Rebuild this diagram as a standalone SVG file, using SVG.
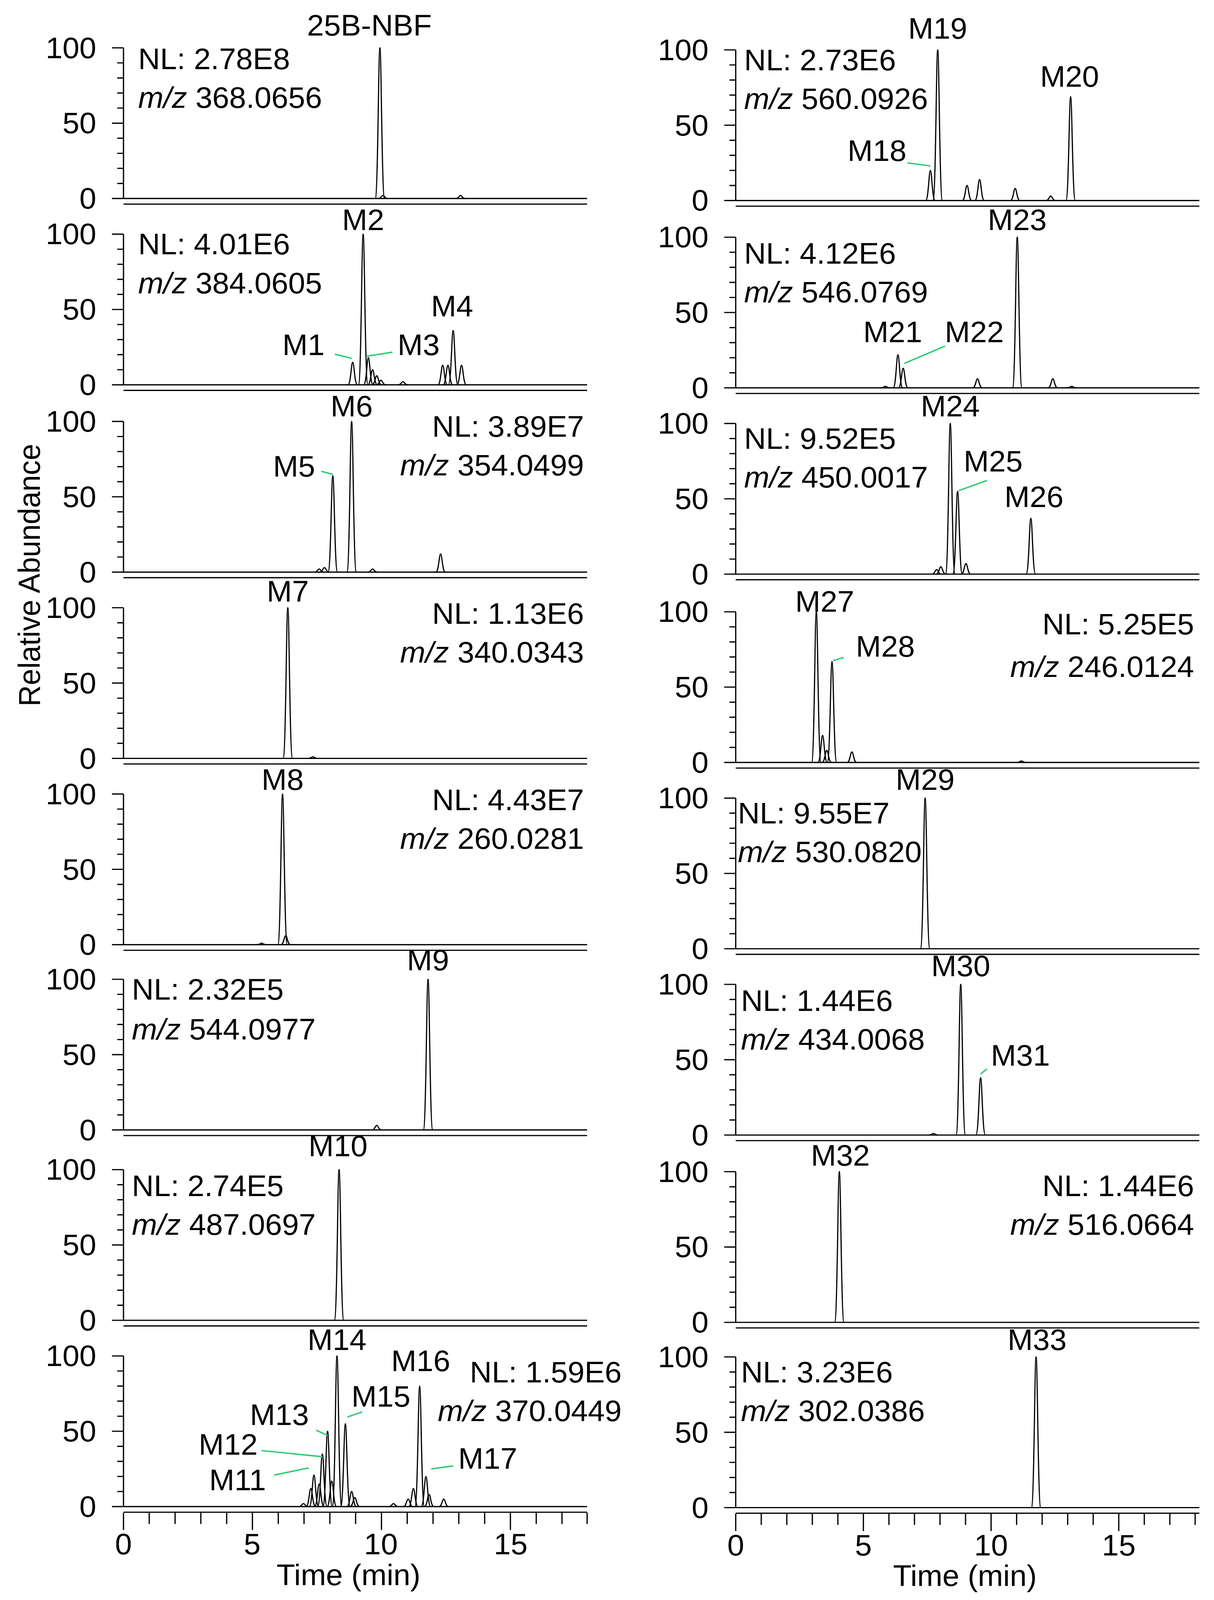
<svg xmlns="http://www.w3.org/2000/svg" xmlns:xlink="http://www.w3.org/1999/xlink" width="3108" height="4198" viewBox="0 0 3108 4198">
<style>
text{font-family:"Liberation Sans",Arial,sans-serif;font-size:29px;fill:#000}
.ax{fill:none;stroke:#000;stroke-width:1.2}
.pk use{stroke:#000;stroke-width:3;fill:none}
.g{stroke:#2ecc71;stroke-width:1.4;fill:none}
.e{text-anchor:end}
.m{text-anchor:middle}
</style>
<defs>
<path id="p" d="M-4.5,0 C-1.8,0 -1.4,-1 0,-1 C1.4,-1 1.8,0 4.5,0" fill="none" vector-effect="non-scaling-stroke"/>
<g id="yax">
<path class="ax" d="M0,0V-148 M-11,0H0 M-6,-14.8H0 M-6,-29.6H0 M-6,-44.4H0 M-6,-59.2H0 M-11,-74H0 M-6,-88.8H0 M-6,-103.6H0 M-6,-118.4H0 M-6,-133.2H0 M-11,-148H0 M0,0H443 M0,5.5H443"/>
<text class="e" x="-26" y="10">0</text>
<text class="e" x="-26" y="-64">50</text>
<text class="e" x="-26" y="-138">100</text>
</g>
</defs>
<rect width="3108" height="4198" fill="#fff"/>
<g transform="scale(2.6793,2.606)">
<text transform="translate(38,565) rotate(-90)" class="m">Relative Abundance</text>

<g id="L1"><use href="#yax" x="118" y="195"/>
<g class="pk" transform="translate(0,195) scale(1,1.48)"><use href="#p" transform="translate(363,0) scale(1,100)"/><use href="#p" transform="translate(366,0) scale(1,2)"/><use href="#p" transform="translate(440,0) scale(1,2)"/></g>
<text class="m" x="353" y="35">25B-NBF</text><text x="132" y="68">NL: 2.78E8</text><text x="132" y="106"><tspan font-style="italic">m/z</tspan> 368.0656</text></g>

<g id="L2"><use href="#yax" x="118" y="378"/>
<g class="pk" transform="translate(0,378) scale(1,1.48)"><use href="#p" transform="translate(337,0) scale(1,15)"/><use href="#p" transform="translate(347,0) scale(1,100)"/><use href="#p" transform="translate(352,0) scale(1,18)"/><use href="#p" transform="translate(356,0) scale(1,10)"/><use href="#p" transform="translate(360,0) scale(1,6)"/><use href="#p" transform="translate(364,0) scale(1,3)"/><use href="#p" transform="translate(385,0) scale(1,2)"/><use href="#p" transform="translate(423,0) scale(1,13)"/><use href="#p" transform="translate(428,0) scale(1,13)"/><use href="#p" transform="translate(433,0) scale(1,36)"/><use href="#p" transform="translate(441,0) scale(1,13)"/></g>
<text class="m" x="347" y="226">M2</text><text class="m" x="290" y="349">M1</text><text class="m" x="400" y="349">M3</text><text class="m" x="432" y="311">M4</text>
<path class="g" d="M320,348L336,352 M350,350L375,346"/>
<text x="132" y="250">NL: 4.01E6</text><text x="132" y="288"><tspan font-style="italic">m/z</tspan> 384.0605</text></g>

<g id="L3"><use href="#yax" x="118" y="562"/>
<g class="pk" transform="translate(0,562) scale(1,1.48)"><use href="#p" transform="translate(305,0) scale(1,2)"/><use href="#p" transform="translate(310,0) scale(1,3)"/><use href="#p" transform="translate(318,0) scale(1,64)"/><use href="#p" transform="translate(336,0) scale(1,100)"/><use href="#p" transform="translate(356,0) scale(1,2)"/><use href="#p" transform="translate(421,0) scale(1,12)"/></g>
<text class="m" x="336" y="409">M6</text><text class="m" x="281" y="468">M5</text>
<path class="g" d="M307,463L318,466"/>
<text class="e" x="558" y="429">NL: 3.89E7</text><text class="e" x="558" y="467"><tspan font-style="italic">m/z</tspan> 354.0499</text></g>

<g id="L4"><use href="#yax" x="118" y="745"/>
<g class="pk" transform="translate(0,745) scale(1,1.48)"><use href="#p" transform="translate(275,0) scale(1,100)"/><use href="#p" transform="translate(299,0) scale(1,1)"/></g>
<text class="m" x="275" y="591">M7</text>
<text class="e" x="558" y="613">NL: 1.13E6</text><text class="e" x="558" y="651"><tspan font-style="italic">m/z</tspan> 340.0343</text></g>

<g id="L5"><use href="#yax" x="118" y="928"/>
<g class="pk" transform="translate(0,928) scale(1,1.48)"><use href="#p" transform="translate(250,0) scale(1,1)"/><use href="#p" transform="translate(270,0) scale(1,100)"/><use href="#p" transform="translate(273,0) scale(1,6)"/></g>
<text class="m" x="270" y="776">M8</text>
<text class="e" x="558" y="796">NL: 4.43E7</text><text class="e" x="558" y="834"><tspan font-style="italic">m/z</tspan> 260.0281</text></g>

<g id="L6"><use href="#yax" x="118" y="1110"/>
<g class="pk" transform="translate(0,1110) scale(1,1.48)"><use href="#p" transform="translate(360,0) scale(1,3)"/><use href="#p" transform="translate(409,0) scale(1,100)"/></g>
<text class="m" x="409" y="953">M9</text>
<text x="126" y="982">NL: 2.32E5</text><text x="126" y="1021"><tspan font-style="italic">m/z</tspan> 544.0977</text></g>

<g id="L7"><use href="#yax" x="118" y="1297"/>
<g class="pk" transform="translate(0,1297) scale(1,1.48)"><use href="#p" transform="translate(324,0) scale(1,100)"/></g>
<text class="m" x="323" y="1136">M10</text>
<text x="126" y="1175">NL: 2.74E5</text><text x="126" y="1213"><tspan font-style="italic">m/z</tspan> 487.0697</text></g>

<g id="L8"><use href="#yax" x="118" y="1480"/>
<g class="pk" transform="translate(0,1480) scale(1,1.48)"><use href="#p" transform="translate(290,0) scale(1,2)"/><use href="#p" transform="translate(297,0) scale(1,12)"/><use href="#p" transform="translate(300,0) scale(1,21)"/><use href="#p" transform="translate(305,0) scale(1,15)"/><use href="#p" transform="translate(308,0) scale(1,35)"/><use href="#p" transform="translate(313,0) scale(1,50)"/><use href="#p" transform="translate(317,0) scale(1,17)"/><use href="#p" transform="translate(322,0) scale(1,100)"/><use href="#p" transform="translate(330,0) scale(1,55)"/><use href="#p" transform="translate(336,0) scale(1,10)"/><use href="#p" transform="translate(339,0) scale(1,6)"/><use href="#p" transform="translate(376,0) scale(1,2)"/><use href="#p" transform="translate(390,0) scale(1,5)"/><use href="#p" transform="translate(395,0) scale(1,12)"/><use href="#p" transform="translate(401,0) scale(1,80)"/><use href="#p" transform="translate(407,0) scale(1,20)"/><use href="#p" transform="translate(410,0) scale(1,8)"/><use href="#p" transform="translate(424,0) scale(1,5)"/></g>
<text class="m" x="322" y="1326">M14</text><text class="m" x="402" y="1347">M16</text><text class="m" x="364" y="1382">M15</text><text class="m" x="267" y="1400">M13</text><text class="m" x="218" y="1429">M12</text><text class="m" x="227" y="1464">M11</text><text class="m" x="466" y="1443">M17</text>
<path class="g" d="M332,1392L346,1387 M302,1405L313,1410 M250,1425L308,1431 M262,1449L295,1442 M412,1443L433,1440"/>
<text class="e" x="594" y="1358">NL: 1.59E6</text><text class="e" x="594" y="1396"><tspan font-style="italic">m/z</tspan> 370.0449</text>
<path class="ax" d="M118,1486V1503 M142.6,1486V1497 M167.3,1486V1497 M191.9,1486V1497 M216.6,1486V1497 M241.2,1486V1503 M265.9,1486V1497 M290.5,1486V1497 M315.2,1486V1497 M339.8,1486V1497 M364.5,1486V1503 M389.1,1486V1497 M413.8,1486V1497 M438.4,1486V1497 M463.1,1486V1497 M487.7,1486V1503 M512.4,1486V1497 M537,1486V1497 M561,1486V1497"/>
<text class="m" x="118" y="1527">0</text><text class="m" x="241" y="1527">5</text><text class="m" x="364" y="1527">10</text><text class="m" x="488" y="1527">15</text>
<text class="m" x="333" y="1557">Time (min)</text></g>

<g id="R1"><use href="#yax" x="703" y="197"/>
<g class="pk" transform="translate(0,197) scale(1,1.48)"><use href="#p" transform="translate(889,0) scale(1,20)"/><use href="#p" transform="translate(896,0) scale(1,100)"/><use href="#p" transform="translate(924,0) scale(1,10)"/><use href="#p" transform="translate(936,0) scale(1,14)"/><use href="#p" transform="translate(970,0) scale(1,8)"/><use href="#p" transform="translate(1004,0) scale(1,3)"/><use href="#p" transform="translate(1023,0) scale(1,69)"/></g>
<text class="m" x="896" y="38">M19</text><text class="m" x="1022" y="85">M20</text><text class="m" x="838" y="158">M18</text>
<path class="g" d="M867,160L889,163"/>
<text x="711" y="69">NL: 2.73E6</text><text x="711" y="107"><tspan font-style="italic">m/z</tspan> 560.0926</text></g>

<g id="R2"><use href="#yax" x="703" y="381"/>
<g class="pk" transform="translate(0,381) scale(1,1.48)"><use href="#p" transform="translate(846,0) scale(1,1)"/><use href="#p" transform="translate(858,0) scale(1,22)"/><use href="#p" transform="translate(863,0) scale(1,13)"/><use href="#p" transform="translate(934,0) scale(1,6)"/><use href="#p" transform="translate(972,0) scale(1,100)"/><use href="#p" transform="translate(1006,0) scale(1,6)"/><use href="#p" transform="translate(1024,0) scale(1,1)"/></g>
<text class="m" x="972" y="226">M23</text><text class="m" x="853" y="336">M21</text><text class="m" x="931" y="336">M22</text>
<path class="g" d="M864,357L903,340"/>
<text x="711" y="259">NL: 4.12E6</text><text x="711" y="297"><tspan font-style="italic">m/z</tspan> 546.0769</text></g>

<g id="R3"><use href="#yax" x="703" y="564"/>
<g class="pk" transform="translate(0,564) scale(1,1.48)"><use href="#p" transform="translate(895,0) scale(1,3)"/><use href="#p" transform="translate(899,0) scale(1,5)"/><use href="#p" transform="translate(908,0) scale(1,100)"/><use href="#p" transform="translate(915,0) scale(1,55)"/><use href="#p" transform="translate(923,0) scale(1,7)"/><use href="#p" transform="translate(985,0) scale(1,37)"/></g>
<text class="m" x="908" y="409">M24</text><text class="m" x="949" y="463">M25</text><text class="m" x="988" y="498">M26</text>
<path class="g" d="M916,482L943,472"/>
<text x="711" y="441">NL: 9.52E5</text><text x="711" y="479"><tspan font-style="italic">m/z</tspan> 450.0017</text></g>

<g id="R4"><use href="#yax" x="703" y="749"/>
<g class="pk" transform="translate(0,749) scale(1,1.48)"><use href="#p" transform="translate(780,0) scale(1,100)"/><use href="#p" transform="translate(786,0) scale(1,18)"/><use href="#p" transform="translate(790,0) scale(1,8)"/><use href="#p" transform="translate(795,0) scale(1,67)"/><use href="#p" transform="translate(814,0) scale(1,7)"/><use href="#p" transform="translate(976,0) scale(1,1)"/></g>
<text class="m" x="788" y="601">M27</text><text class="m" x="846" y="645">M28</text>
<path class="g" d="M796,649L806,646"/>
<text class="e" x="1141" y="623">NL: 5.25E5</text><text class="e" x="1141" y="665"><tspan font-style="italic">m/z</tspan> 246.0124</text></g>

<g id="R5"><use href="#yax" x="703" y="932"/>
<g class="pk" transform="translate(0,932) scale(1,1.48)"><use href="#p" transform="translate(884,0) scale(1,100)"/></g>
<text class="m" x="884" y="776">M29</text>
<text x="705" y="809">NL: 9.55E7</text><text x="705" y="847"><tspan font-style="italic">m/z</tspan> 530.0820</text></g>

<g id="R6"><use href="#yax" x="703" y="1115"/>
<g class="pk" transform="translate(0,1115) scale(1,1.48)"><use href="#p" transform="translate(892,0) scale(1,1)"/><use href="#p" transform="translate(918,0) scale(1,100)"/><use href="#p" transform="translate(937,0) scale(1,38)"/></g>
<text class="m" x="918" y="959">M30</text><text class="m" x="975" y="1047">M31</text>
<path class="g" d="M937,1055L943,1050"/>
<text x="708" y="993">NL: 1.44E6</text><text x="708" y="1031"><tspan font-style="italic">m/z</tspan> 434.0068</text></g>

<g id="R7"><use href="#yax" x="703" y="1299"/>
<g class="pk" transform="translate(0,1299) scale(1,1.48)"><use href="#p" transform="translate(802,0) scale(1,100)"/></g>
<text class="m" x="803" y="1145">M32</text>
<text class="e" x="1141" y="1175">NL: 1.44E6</text><text class="e" x="1141" y="1213"><tspan font-style="italic">m/z</tspan> 516.0664</text></g>

<g id="R8"><use href="#yax" x="703" y="1481"/>
<g class="pk" transform="translate(0,1481) scale(1,1.48)"><use href="#p" transform="translate(990,0) scale(1,100)"/></g>
<text class="m" x="991" y="1326">M33</text>
<text x="708" y="1358">NL: 3.23E6</text><text x="708" y="1396"><tspan font-style="italic">m/z</tspan> 302.0386</text>
<path class="ax" d="M703,1487V1504 M727.4,1487V1498 M751.8,1487V1498 M776.2,1487V1498 M800.6,1487V1498 M825,1487V1504 M849.4,1487V1498 M873.8,1487V1498 M898.2,1487V1498 M922.6,1487V1498 M947,1487V1504 M971.4,1487V1498 M995.8,1487V1498 M1020.2,1487V1498 M1044.6,1487V1498 M1069,1487V1504 M1093.4,1487V1498 M1117.8,1487V1498 M1142,1487V1498"/>
<text class="m" x="703" y="1528">0</text><text class="m" x="825" y="1528">5</text><text class="m" x="947" y="1528">10</text><text class="m" x="1069" y="1528">15</text>
<text class="m" x="922" y="1558">Time (min)</text></g>
</g>
</svg>
